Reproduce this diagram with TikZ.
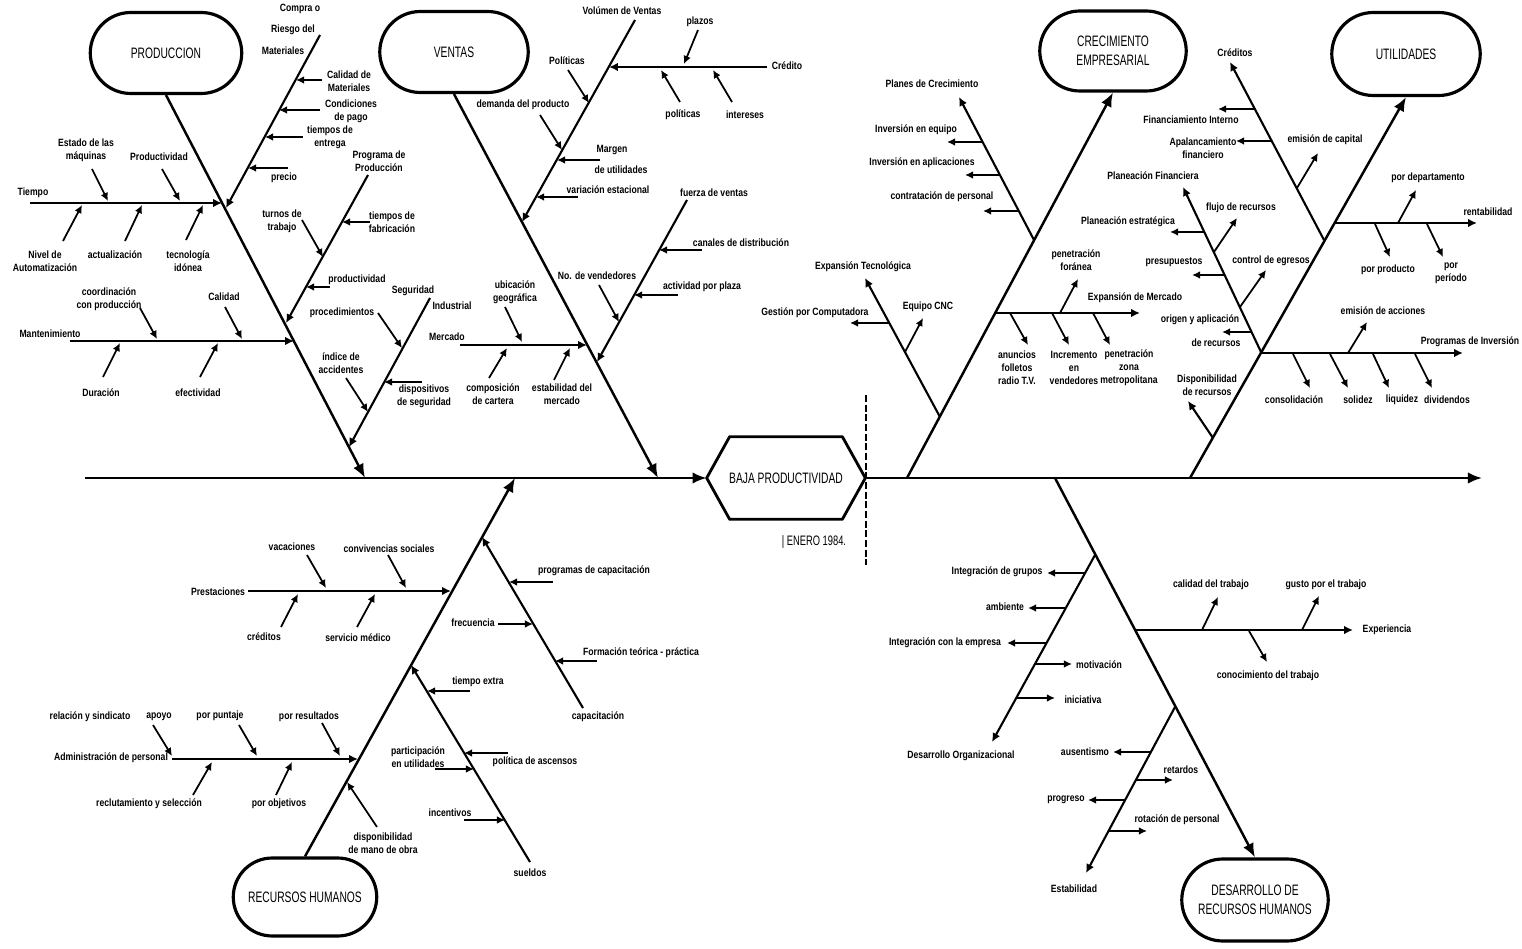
\documentclass[tikz,border=0pt]{standalone}
\usepackage{fontspec}
\newfontfamily\headfont[FakeStretch=0.68]{Liberation Sans}
\newfontfamily\twigfont[FakeStretch=0.82]{Liberation Sans}
\usetikzlibrary{arrows.meta,shapes.misc}

\tikzset{
  head/.style={draw, line width=1.8pt, rounded rectangle, minimum width=3.1cm,
    minimum height=1.62cm, inner sep=1pt, align=center,
    font=\headfont\fontsize{8.6}{10.5}\selectfont},
  headlbl/.style={inner sep=0pt, font=\headfont\fontsize{8.6}{10}\selectfont},
  hexbox/.style={inner sep=0pt, minimum width=2.24cm, minimum height=1.64cm},
  hexline/.style={line width=1.6pt, line join=round},
  lbl/.style={inner sep=0.5pt, align=center,
    font=\twigfont\bfseries\fontsize{6}{7.4}\selectfont},
  bone/.style={line width=1.4pt, -{Latex[length=8pt,width=6.5pt]}},
  branch/.style={line width=1.2pt, -{Latex[length=5pt,width=4.8pt]}},
  twig/.style={line width=1pt, -{Latex[length=4.6pt,width=4.4pt]}},
  cut/.style={line width=1.4pt, dash pattern=on 4pt off 1.5pt},
}

\begin{document}
\begin{tikzpicture}[x=0.02cm,y=-0.02cm]
\useasboundingbox (0,0) rectangle (1522,949);

\node[head] (prod) at (166,53) {PRODUCCION};
\node[head, minimum width=3.04cm] (ventas) at (454,52) {VENTAS};
\node[head, minimum width=3cm, minimum height=1.6cm] (crec) at (1113,51) {CRECIMIENTO\\EMPRESARIAL};
\node[head, minimum width=3.04cm, minimum height=1.66cm] (util) at (1406,54) {UTILIDADES};
\node[head, minimum width=2.94cm, minimum height=1.56cm] (rrhh) at (305,897) {RECURSOS HUMANOS};
\node[head, minimum width=3cm, minimum height=1.64cm] (desa) at (1255,900) {DESARROLLO DE\\RECURSOS HUMANOS};

\node[hexbox] (baja) at (786,478) {};
\node[headlbl] (bajatxt) at (baja) {BAJA PRODUCTIVIDAD};
\coordinate (bajaw) at ([xshift=-0.46cm]baja.west);
\coordinate (bajae) at ([xshift=0.46cm]baja.east);
\draw[hexline] (bajaw) -- (baja.north west) -- (baja.north east) -- (bajae)
  -- (baja.south east) -- (baja.south west) -- cycle;
\node[headlbl, font=\headfont\fontsize{7.8}{9}\selectfont] (fecha) at (814,542) {\textbar\ ENERO 1984.};
\coordinate (cuttop) at (866,395);
\coordinate (cutbot) at (866,565);
\draw[cut] (cuttop) -- (cutbot);

\coordinate (tail) at (85,478);
\coordinate (tip) at (1482,478);
\draw[bone] (tail) -- (bajaw);
\draw[bone] (bajae) -- (tip);

\coordinate (prodroot) at (365,478);
\coordinate (ventroot) at (658,478);
\coordinate (rrhhroot) at (515,478);
\coordinate (crecroot) at (907,478);
\coordinate (utilroot) at (1190,478);
\coordinate (desaroot) at (1055,478);
\draw[bone] (prod.south) -- (prodroot);
\draw[bone] (ventas.south) -- (ventroot);
\draw[bone] (rrhh.north) -- (rrhhroot);
\draw[bone] (crecroot) -- (crec.south);
\draw[bone] (utilroot) -- (util.south);
\draw[bone] (desaroot) -- (desa.north);

\draw[branch] (30,203) -- (222,203);
\node[lbl] (tiempo) at (33,193) {Tiempo};
\draw[twig] (92,169) -- (108,201);
\node[lbl] (estado) at (86,150) {Estado de las\\máquinas};
\draw[twig] (162,169) -- (180,201);
\node[lbl] (prodvd) at (159,157) {Productividad};
\draw[twig] (63,241) -- (82,205);
\node[lbl] (nivel) at (45,261) {Nivel de\\Automatización};
\draw[twig] (125,241) -- (142,205);
\node[lbl] (actual) at (115,255) {actualización};
\draw[twig] (186,240) -- (203,205);
\node[lbl] (tecno) at (188,261) {tecnología\\idónea};

\draw[branch] (320,35) -- (226,208);
\node[lbl] (compra) at (300,9) {Compra o};
\node[lbl] (riesgo) at (293,30) {Riesgo del};
\node[lbl] (mater) at (283,51) {Materiales};
\draw[twig] (322,80) -- (296,80);
\node[lbl] (calmat) at (349,81) {Calidad de\\Materiales};
\draw[twig] (320,110) -- (279,110);
\node[lbl] (condic) at (351,111) {Condiciones\\de pago};
\draw[twig] (303,137) -- (265,137);
\node[lbl] (tentrega) at (330,137) {tiempos de\\entrega};
\draw[twig] (288,168) -- (248,168);
\node[lbl] (precio) at (284,178) {precio};

\draw[branch] (368,175) -- (286,323);
\node[lbl] (progprod) at (379,161) {Programa de\\Producción};
\draw[twig] (370,222) -- (342,222);
\node[lbl] (tfabric) at (392,222) {tiempos de\\fabricación};
\draw[twig] (302,220) -- (323,257);
\node[lbl] (turnos) at (282,221) {turnos de\\trabajo};
\draw[twig] (330,287) -- (306,287);
\node[lbl] (prodvd2) at (357,280) {productividad};

\draw[branch] (70,341) -- (294,341);
\node[lbl] (mant) at (50,334) {Mantenimiento};
\draw[twig] (140,308) -- (157,339);
\node[lbl] (coord) at (109,299) {coordinación\\con producción};
\draw[twig] (225,307) -- (242,339);
\node[lbl] (calidad) at (224,297) {Calidad};
\draw[twig] (103,377) -- (120,343);
\node[lbl] (durac) at (101,393) {Duración};
\draw[twig] (200,377) -- (218,343);
\node[lbl] (efect) at (198,393) {efectividad};

\draw[branch] (430,298) -- (349,447);
\node[lbl] (segur) at (413,291) {Seguridad};
\node[lbl] (indus) at (452,306) {Industrial};
\draw[twig] (378,313) -- (402,348);
\node[lbl] (proced) at (342,313) {procedimientos};
\draw[twig] (422,382) -- (384,382);
\node[lbl] (disposit) at (424,396) {dispositivos\\de seguridad};
\draw[twig] (346,378) -- (368,412);
\node[lbl] (indice) at (341,363) {índice de\\accidentes};

\draw[branch] (635,20) -- (522,222);
\node[lbl] (volumen) at (622,11) {Volúmen de Ventas};
\draw[branch] (767,67) -- (609,67);
\node[lbl] (credito) at (787,66) {Crédito};
\draw[twig] (698,30) -- (684,64);
\node[lbl] (plazos) at (700,22) {plazos};
\draw[twig] (680,102) -- (661,70);
\node[lbl] (polit2) at (683,115) {políticas};
\draw[twig] (732,102) -- (713,70);
\node[lbl] (interes) at (745,115) {intereses};
\draw[twig] (568,70) -- (589,103);
\node[lbl] (polit1) at (567,61) {Políticas};
\draw[twig] (540,115) -- (562,150);
\node[lbl] (demanda) at (523,105) {demanda del producto};
\draw[twig] (600,160) -- (557,160);
\node[lbl] (margen) at (612,150) {Margen};
\node[lbl] (utilid) at (621,170) {de utilidades};
\draw[twig] (578,197) -- (536,197);
\node[lbl] (variac) at (608,190) {variación estacional};

\draw[branch] (687,200) -- (597,362);
\node[lbl] (fuerza) at (714,193) {fuerza de ventas};
\draw[twig] (702,250) -- (659,250);
\node[lbl] (canales) at (741,243) {canales de distribución};
\draw[twig] (678,295) -- (634,295);
\node[lbl] (activ) at (702,287) {actividad por plaza};
\draw[twig] (599,285) -- (619,322);
\node[lbl] (vended) at (597,276) {No. de vendedores};

\draw[branch] (460,345) -- (587,345);
\node[lbl] (mercado) at (447,337) {Mercado};
\draw[twig] (505,307) -- (522,342);
\node[lbl] (ubic) at (515,292) {ubicación\\geográfica};
\draw[twig] (489,378) -- (507,348);
\node[lbl] (compos) at (493,394) {composición\\de cartera};
\draw[twig] (554,380) -- (570,348);
\node[lbl] (estab) at (562,394) {estabilidad del\\mercado};

\draw[branch] (248,591) -- (451,591);
\node[lbl] (prest) at (218,592) {Prestaciones};
\draw[twig] (307,555) -- (326,588);
\node[lbl] (vacac) at (292,547) {vacaciones};
\draw[twig] (388,555) -- (406,588);
\node[lbl] (conviv) at (389,549) {convivencias sociales};
\draw[twig] (281,627) -- (298,594);
\node[lbl] (credit) at (264,637) {créditos};
\draw[twig] (357,627) -- (375,594);
\node[lbl] (servic) at (358,638) {servicio médico};

\draw[branch] (583,708) -- (482,537);
\node[lbl] (capac) at (598,717) {capacitación};
\draw[twig] (553,582) -- (509,582);
\node[lbl] (progcap) at (594,571) {programas de capacitación};
\draw[twig] (498,624) -- (533,624);
\node[lbl] (frec) at (473,623) {frecuencia};
\draw[twig] (597,661) -- (555,661);
\node[lbl] (formac) at (641,653) {Formación teórica - práctica};

\draw[branch] (530,862) -- (411,665);
\node[lbl] (sueldos) at (530,873) {sueldos};
\draw[twig] (470,691) -- (427,691);
\node[lbl] (textra) at (478,682) {tiempo extra};
\draw[twig] (508,753) -- (464,753);
\node[lbl] (ascen) at (535,762) {política de ascensos};
\draw[twig] (435,769) -- (474,769);
\node[lbl] (partic) at (418,757) {participación\\en utilidades};
\draw[twig] (464,820) -- (505,820);
\node[lbl] (incent) at (450,813) {incentivos};

\draw[branch] (172,759) -- (358,759);
\node[lbl] (admin) at (111,758) {Administración de personal};
\node[lbl] (sindic) at (90,717) {relación y sindicato};
\draw[twig] (153,725) -- (172,756);
\node[lbl] (apoyo) at (159,717) {apoyo};
\draw[twig] (239,725) -- (257,756);
\node[lbl] (puntaje) at (220,716) {por puntaje};
\draw[twig] (322,723) -- (340,756);
\node[lbl] (result) at (309,717) {por resultados};
\draw[twig] (193,795) -- (212,762);
\node[lbl] (reclut) at (149,804) {reclutamiento y selección};
\draw[twig] (276,795) -- (292,762);
\node[lbl] (objet) at (279,804) {por objetivos};

\draw[twig] (377,827) -- (347,782);
\node[lbl] (dispon) at (383,843) {disponibilidad\\de mano de obra};

\draw[branch] (1034,240) -- (959,97);
\node[lbl] (planes) at (932,84) {Planes de Crecimiento};
\draw[twig] (983,142) -- (947,142);
\node[lbl] (invequ) at (916,130) {Inversión en equipo};
\draw[twig] (1000,175) -- (965,175);
\node[lbl] (invapl) at (922,163) {Inversión en aplicaciones};
\draw[twig] (1019,211) -- (983,211);
\node[lbl] (contrat) at (942,197) {contratación de personal};

\draw[branch] (940,417) -- (865,278);
\node[lbl] (expt) at (863,267) {Expansión Tecnológica};
\draw[twig] (889,323) -- (850,323);
\node[lbl] (gestion) at (815,313) {Gestión por Computadora};
\draw[twig] (905,352) -- (923,318);
\node[lbl] (cnc) at (928,307) {Equipo CNC};

\draw[branch] (995,313) -- (1140,313);
\node[lbl] (expm) at (1135,298) {Expansión de Mercado};
\draw[twig] (1060,313) -- (1078,279);
\node[lbl] (penfor) at (1076,260) {penetración\\foránea};
\draw[twig] (1010,313) -- (1028,345);
\node[lbl] (anunc) at (1017,368) {anuncios\\folletos\\radio T.V.};
\draw[twig] (1052,313) -- (1069,345);
\node[lbl] (increm) at (1074,368) {Incremento\\en\\vendedores};
\draw[twig] (1093,313) -- (1110,345);
\node[lbl] (penmet) at (1129,368) {penetración\\zona\\metropolitana};

\draw[branch] (1324,240) -- (1230,62);
\node[lbl] (creditos) at (1235,53) {Créditos};
\draw[twig] (1255,109) -- (1218,109);
\node[lbl] (financ) at (1191,120) {Financiamiento Interno};
\draw[twig] (1272,141) -- (1236,141);
\node[lbl] (apalan) at (1203,148) {Apalancamiento\\financiero};
\draw[twig] (1297,188) -- (1318,153);
\node[lbl] (emicap) at (1325,140) {emisión de capital};

\draw[branch] (1261,352) -- (1183,187);
\node[lbl] (planfin) at (1153,176) {Planeación Financiera};
\draw[twig] (1204,232) -- (1170,232);
\node[lbl] (planest) at (1128,222) {Planeación estratégica};
\draw[twig] (1214,252) -- (1237,218);
\node[lbl] (flujo) at (1241,208) {flujo de recursos};
\draw[twig] (1225,275) -- (1192,275);
\node[lbl] (presup) at (1174,262) {presupuestos};
\draw[twig] (1240,307) -- (1266,270);
\node[lbl] (control) at (1271,261) {control de egresos};
\draw[twig] (1252,332) -- (1222,332);
\node[lbl] (origen) at (1200,320) {origen y aplicación};
\node[lbl] (derec) at (1216,343) {de recursos};

\draw[branch] (1334,223) -- (1477,223);
\node[lbl] (rentab) at (1488,212) {rentabilidad};
\draw[twig] (1398,223) -- (1416,190);
\node[lbl] (pordep) at (1428,178) {por departamento};
\draw[twig] (1375,224) -- (1390,257);
\node[lbl] (porprod) at (1388,270) {por producto};
\draw[twig] (1427,224) -- (1443,257);
\node[lbl] (porper) at (1451,273) {por\\período};

\draw[branch] (1261,353) -- (1463,353);
\node[lbl] (proginv) at (1470,342) {Programas de Inversión};
\draw[twig] (1348,353) -- (1367,322);
\node[lbl] (emiacc) at (1383,311) {emisión de acciones};
\draw[twig] (1293,354) -- (1310,388);
\node[lbl] (consol) at (1294,400) {consolidación};
\draw[twig] (1330,354) -- (1348,388);
\node[lbl] (solidez) at (1358,400) {solidez};
\draw[twig] (1373,354) -- (1389,388);
\node[lbl] (liquid) at (1402,400) {liquidez};
\draw[twig] (1415,354) -- (1432,388);
\node[lbl] (divid) at (1447,400) {dividendos};

\draw[branch] (1213,438) -- (1188,401);
\node[lbl] (disprec) at (1207,385) {Disponibilidad\\de recursos};

\draw[branch] (1095,555) -- (992,742);
\node[lbl] (desorg) at (961,756) {Desarrollo Organizacional};
\draw[twig] (1085,573) -- (1047,573);
\node[lbl] (intgru) at (997,572) {Integración de grupos};
\draw[twig] (1066,608) -- (1028,608);
\node[lbl] (ambien) at (1005,607) {ambiente};
\draw[twig] (1046,643) -- (1007,643);
\node[lbl] (intemp) at (945,643) {Integración con la empresa};
\draw[twig] (1035,664) -- (1072,664);
\node[lbl] (motiv) at (1099,665) {motivación};
\draw[twig] (1016,698) -- (1055,698);
\node[lbl] (inic) at (1083,700) {iniciativa};

\draw[branch] (1135,630) -- (1353,630);
\node[lbl] (exper) at (1387,630) {Experiencia};
\draw[twig] (1202,630) -- (1218,597);
\node[lbl] (calidt) at (1211,585) {calidad del trabajo};
\draw[twig] (1302,630) -- (1319,596);
\node[lbl] (gusto) at (1326,585) {gusto por el trabajo};
\draw[twig] (1249,631) -- (1267,662);
\node[lbl] (conoc) at (1268,676) {conocimiento del trabajo};

\draw[branch] (1175,707) -- (1086,873);
\node[lbl] (estabil) at (1074,889) {Estabilidad};
\draw[twig] (1151,752) -- (1113,752);
\node[lbl] (ausent) at (1085,752) {ausentismo};
\draw[twig] (1136,780) -- (1173,780);
\node[lbl] (retard) at (1181,770) {retardos};
\draw[twig] (1125,800) -- (1088,800);
\node[lbl] (progre) at (1066,800) {progreso};
\draw[twig] (1109,831) -- (1147,831);
\node[lbl] (rotac) at (1177,820) {rotación de personal};

\end{tikzpicture}
\end{document}
